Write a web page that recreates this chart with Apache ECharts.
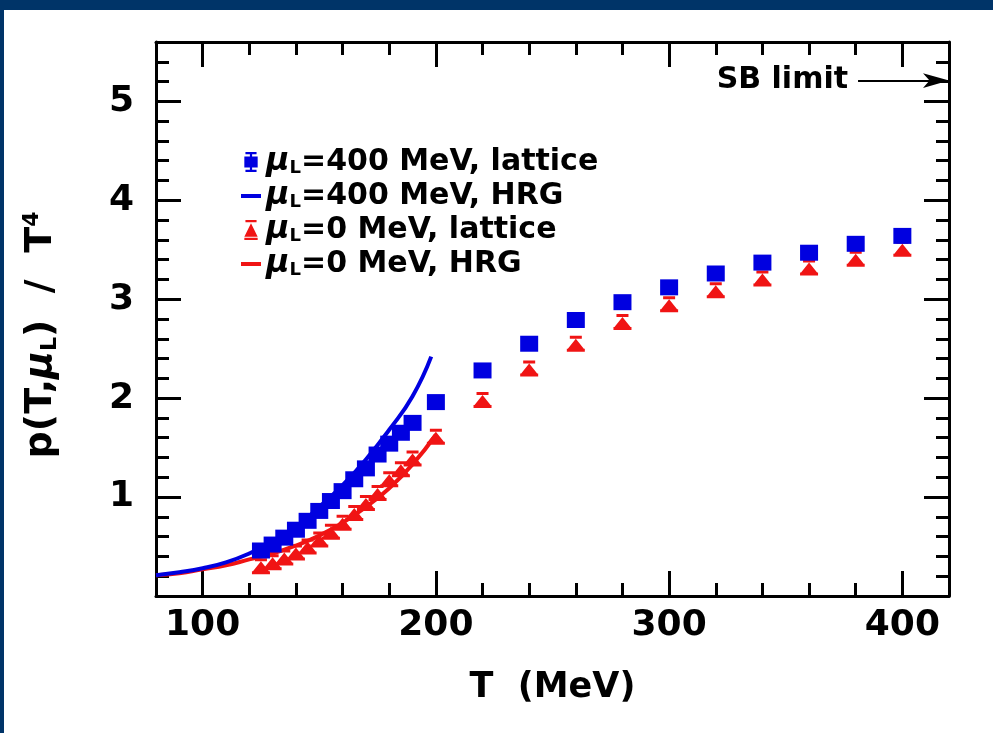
<!DOCTYPE html>
<html><head><meta charset="utf-8">
<script src="https://cdn.jsdelivr.net/npm/echarts@6/dist/echarts.min.js"></script>
<style>html,body{margin:0;padding:0;background:#fff}#c{width:993px;height:733px}</style>
</head><body><div id="c"></div>
<script>
// ---- data ----
const latticeT = [125,130,135,140,145,150,155,160,165,170,175,180,185,190,200,220,240,260,280,300,320,340,360,380,400];
const lattice400 = [0.46,0.52,0.59,0.67,0.76,0.86,0.96,1.06,1.18,1.29,1.43,1.54,1.65,1.75,1.96,2.28,2.55,2.79,2.97,3.12,3.26,3.37,3.47,3.56,3.64];
const lattice0 = [0.30,0.34,0.39,0.44,0.50,0.57,0.65,0.74,0.84,0.94,1.04,1.18,1.28,1.39,1.61,1.98,2.30,2.55,2.77,2.95,3.09,3.21,3.32,3.41,3.51];
const hrgT400 = [80,90,100,110,120,130,140,150,160,170,180,190,198];
const hrg400 = [0.21,0.24,0.28,0.34,0.43,0.55,0.70,0.90,1.12,1.38,1.68,2.02,2.42];
const hrgT0 = [80,90,100,110,120,130,140,150,160,170,180,190,200];
const hrg0 = [0.21,0.23,0.27,0.31,0.37,0.43,0.51,0.61,0.74,0.90,1.09,1.33,1.63];
const xTickLabels = [100,200,300,400];
const yTickLabels = [1,2,3,4,5];
const sbLimit = 5.21;
const sbArrowT = [381, 420];
const seriesNames = ['μL=400 MeV, lattice','μL=400 MeV, HRG','μL=0 MeV, lattice','μL=0 MeV, HRG'];

// ---- styling ----
const FONT = 'DejaVu Sans';
const BLUE = '#0000e0';
const RED = '#f01414';
const zip = (xs, ys) => xs.map((x, i) => [x, ys[i]]);
const XMIN = 80, XMAX = 420, YMIN = 0, YMAX = 5.6;
const tickStyle = {color:'#000', width:3};

function xAx(pos, major) {
  const a = {type:'value', position:pos, min:XMIN, max:XMAX, interval:20,
    axisLine:{show:!major, onZero:false, lineStyle:{color:'#000', width:3}},
    axisTick:{show:true, inside:true, length: major?25:13, lineStyle:tickStyle},
    axisLabel:{show:false}, splitLine:{show:false}};
  if (major) {
    a.axisTick.customValues = xTickLabels;
    if (pos === 'bottom') {
      a.axisLabel = {show:true, customValues:xTickLabels, color:'#000', fontFamily:FONT, fontWeight:'bold', fontSize:36, margin:12};
      a.name = 'T  (MeV)'; a.nameLocation = 'middle'; a.nameGap = 74;
      a.nameTextStyle = {color:'#000', fontFamily:FONT, fontWeight:'bold', fontSize:35};
    }
  }
  return a;
}
function yAx(pos, major) {
  const a = {type:'value', position:pos, min:YMIN, max:YMAX, interval:0.2,
    axisLine:{show:!major, onZero:false, lineStyle:{color:'#000', width:3}},
    axisTick:{show:true, inside:true, length: major?25:13, lineStyle:tickStyle},
    axisLabel:{show:false}, splitLine:{show:false}};
  if (major) {
    a.axisTick.customValues = yTickLabels;
    if (pos === 'left') {
      a.axisLabel = {show:true, customValues:yTickLabels, color:'#000', fontFamily:FONT, fontWeight:'bold', fontSize:36, margin:22};
      a.name = '{a|p(T,}{mu|μ}{sub|L}{a|)  /  T}{sup|4}';
      a.nameLocation = 'middle'; a.nameGap = 95; a.nameRotate = 90;
      a.nameTextStyle = {color:'#000', fontFamily:FONT, fontWeight:'bold', fontSize:38, padding:[0,32,0,0],
        rich:{a:{fontFamily:FONT, fontWeight:'bold', fontSize:38, color:'#000'},
              mu:{fontFamily:FONT, fontWeight:'bold', fontStyle:'italic', fontSize:38, color:'#000'},
              sub:{fontFamily:FONT, fontWeight:'bold', fontSize:22, color:'#000', padding:[18,0,0,0]},
              sup:{fontFamily:FONT, fontWeight:'bold', fontSize:22, color:'#000', padding:[0,0,18,0]}}};
    }
  }
  return a;
}

const triPath = 'path://M3,0H15V3H3Z M9,3L17,13H1Z M0,13H18V16H0Z';
const sqIcon = 'path://M1,0H11V2H1Z M0,4H12V14H0Z M5,2H7V4H5Z M5,14H7V16H5Z M1,16H11V18H1Z';
const triIcon = 'path://M1,0H11V2H1Z M6,3L12,15H0Z M0,16H12V18H0Z';
const lineIcon = 'path://M0,0H20V4H0Z';

const option = {
  animation:false,
  backgroundColor:'#fff',
  graphic:[
    {type:'rect', shape:{x:0,y:0,width:993,height:10}, style:{fill:'#003468'}, z:100},
    {type:'rect', shape:{x:0,y:0,width:4,height:733}, style:{fill:'#003468'}, z:100}
  ],
  grid:{left:156, right:44, top:42, bottom:137},
  xAxis:[xAx('bottom',false), xAx('bottom',true), xAx('top',false), xAx('top',true)],
  yAxis:[yAx('left',false), yAx('left',true), yAx('right',false), yAx('right',true)],
  legend:{
    orient:'vertical', left:236, top:141, itemWidth:20, itemHeight:20, itemGap:2,
    selectedMode:false,
    data:[
      {name:seriesNames[0], icon:sqIcon, itemStyle:{color:BLUE}},
      {name:seriesNames[1], icon:lineIcon, itemStyle:{color:BLUE}},
      {name:seriesNames[2], icon:triIcon, itemStyle:{color:RED}},
      {name:seriesNames[3], icon:lineIcon, itemStyle:{color:RED}}
    ],
    formatter: n => '{mu|μ}{sub|L}{t|' + n.slice(2) + '}',
    textStyle:{fontFamily:FONT, fontWeight:'bold', fontSize:30, color:'#000', lineHeight:30,
      rich:{mu:{fontFamily:FONT, fontWeight:'bold', fontStyle:'italic', fontSize:32, color:'#000', lineHeight:30},
            sub:{fontFamily:FONT, fontWeight:'bold', fontSize:18, color:'#000', lineHeight:18, padding:[12,0,0,0]},
            t:{fontFamily:FONT, fontWeight:'bold', fontSize:30, color:'#000', lineHeight:30}}}
  },
  series:[
    {name:seriesNames[3], type:'line', xAxisIndex:0, yAxisIndex:0, data:zip(hrgT0, hrg0), smooth:true,
      showSymbol:false, lineStyle:{color:RED, width:4}, itemStyle:{color:RED}, z:2},
    {name:seriesNames[1], type:'line', xAxisIndex:0, yAxisIndex:0, data:zip(hrgT400, hrg400), smooth:true,
      showSymbol:false, lineStyle:{color:BLUE, width:4}, itemStyle:{color:BLUE}, z:2,
      markLine:{silent:true, animation:false, symbol:['none','arrow'], symbolSize:[11,26],
        lineStyle:{color:'#000', width:2, type:'solid'},
        label:{show:true, position:'start', formatter:'SB limit', color:'#000', fontFamily:FONT, fontWeight:'bold', fontSize:30, distance:10},
        data:[[{coord:[sbArrowT[0], sbLimit]}, {coord:[sbArrowT[1], sbLimit]}]]}},
    {name:seriesNames[2], type:'scatter', xAxisIndex:0, yAxisIndex:0, data:zip(latticeT, lattice0),
      symbol:triPath, symbolSize:[18,16], itemStyle:{color:RED, opacity:1}, z:3},
    {name:seriesNames[0], type:'scatter', xAxisIndex:0, yAxisIndex:0, data:zip(latticeT, lattice400),
      symbol:'rect', symbolSize:[18,16], itemStyle:{color:BLUE, opacity:1}, z:4}
  ]
};
const chart = echarts.init(document.getElementById('c'));
chart.setOption(option);
</script></body></html>
